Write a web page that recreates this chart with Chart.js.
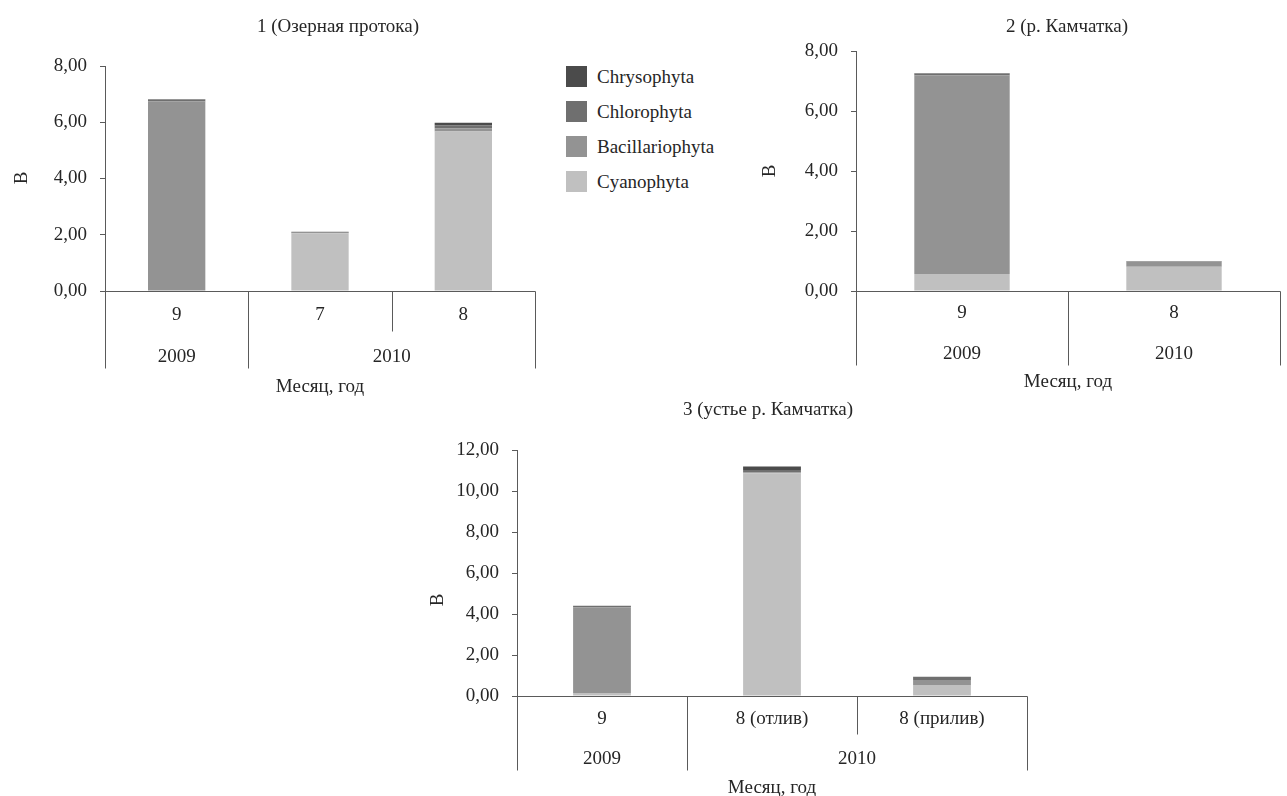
<!DOCTYPE html>
<html>
<head>
<meta charset="utf-8">
<script src="https://cdn.jsdelivr.net/npm/chart.js@4.4.1/dist/chart.umd.min.js"></script>
<style>
  html, body { margin: 0; padding: 0; background: #fff; width: 1287px; height: 796px; overflow: hidden; position: relative; }
  canvas { position: absolute; }
  #legend { position: absolute; left: 566px; top: 59px; font: 19px "Times New Roman", "Liberation Serif", "DejaVu Serif", serif; color: #262626; }
  #legend .item { display: flex; align-items: center; height: 35px; }
  #legend .sw { width: 21px; height: 21px; margin-right: 10px; flex: none; }
</style>
</head>
<body>
<canvas id="c1" width="560" height="400" style="left:0;top:0"></canvas>
<canvas id="c2" width="547" height="400" style="left:740px;top:0"></canvas>
<canvas id="c3" width="700" height="406" style="left:380px;top:390px"></canvas>
<div id="legend"></div>
<script>
// Phytoplankton groups, bottom of the stack first
const groupNames = ['Cyanophyta', 'Bacillariophyta', 'Chlorophyta', 'Chrysophyta'];
const groupColors = ['#c0c0c0', '#939393', '#6f6f6f', '#4b4b4b'];

// 1 (Озерная протока)
const months1 = ['9', '7', '8'];
const years1 = ['2009', '2010'];
const yearSpans1 = [1, 2];
const cyano1 = [0.00, 2.05, 5.67];
const bacil1 = [6.74, 0.02, 0.12];
const chloro1 = [0.06, 0.04, 0.10];
const chryso1 = [0.02, 0.00, 0.09];

// 2 (р. Камчатка)
const months2 = ['9', '8'];
const years2 = ['2009', '2010'];
const yearSpans2 = [1, 1];
const cyano2 = [0.57, 0.81];
const bacil2 = [6.61, 0.17];
const chloro2 = [0.06, 0.02];
const chryso2 = [0.02, 0.00];

// 3 (устье р. Камчатка)
const months3 = ['9', '8 (отлив)', '8 (прилив)'];
const years3 = ['2009', '2010'];
const yearSpans3 = [1, 2];
const cyano3 = [0.15, 10.86, 0.54];
const bacil3 = [4.17, 0.04, 0.24];
const chloro3 = [0.08, 0.12, 0.16];
const chryso3 = [0.00, 0.18, 0.00];

const FONT = '"Times New Roman", "Liberation Serif", "DejaVu Serif", serif';
const TEXT = '#262626';
const LINE = '#5a5a5a';

// Two-level category axis (month / year), axis captions and panel title
const groupAxis = {
  id: 'groupAxis',
  afterDraw(chart, args, o) {
    const { ctx, chartArea: a } = chart;
    const x = chart.scales.x;
    const n = o.months.length;
    const centers = o.months.map((_, i) => x.getPixelForValue(i));
    const edge = i => i === 0 ? a.left : i === n ? a.right : (centers[i - 1] + centers[i]) / 2;
    const px = v => Math.round(v) + 0.5;
    const line = (x1, y1, x2, y2) => { ctx.beginPath(); ctx.moveTo(px(x1), px(y1)); ctx.lineTo(px(x2), px(y2)); ctx.stroke(); };

    ctx.save();
    ctx.strokeStyle = LINE;
    ctx.lineWidth = 1;
    line(a.left, a.bottom, a.right, a.bottom);
    const outerEdges = new Set([0]);
    let acc = 0;
    o.spans.forEach(s => { acc += s; outerEdges.add(acc); });
    for (let i = 0; i <= n; i++) {
      const len = outerEdges.has(i) ? o.outerLen : o.innerLen;
      line(edge(i), a.bottom, edge(i), a.bottom + len);
    }

    ctx.fillStyle = TEXT;
    ctx.font = '19px ' + FONT;
    ctx.textAlign = 'center';
    ctx.textBaseline = 'middle';
    o.months.forEach((m, i) => ctx.fillText(m, centers[i], a.bottom + o.monthDy));
    let start = 0;
    o.years.forEach((yr, g) => {
      const end = start + o.spans[g];
      ctx.fillText(yr, (edge(start) + edge(end)) / 2, a.bottom + o.yearDy);
      start = end;
    });
    ctx.fillText(o.xTitle, (a.left + a.right) / 2, a.bottom + o.xTitleDy);
    ctx.fillText(o.caption, o.captionX, o.captionY);

    ctx.translate(o.yTitleX, o.yTitleY);
    ctx.rotate(-Math.PI / 2);
    ctx.fillText(o.yTitle, 0, 0);
    ctx.restore();
  }
};

function makeChart(id, cfg) {
  const series = [cfg.cyano, cfg.bacil, cfg.chloro, cfg.chryso];
  return new Chart(document.getElementById(id), {
    type: 'bar',
    data: {
      labels: cfg.months,
      datasets: groupNames.map((name, k) => ({
        label: name,
        data: series[k],
        backgroundColor: groupColors[k],
        borderWidth: 0,
        categoryPercentage: 1,
        barPercentage: cfg.barPct
      }))
    },
    options: {
      responsive: false,
      animation: false,
      events: [],
      layout: { padding: cfg.padding },
      plugins: {
        legend: { display: false },
        tooltip: { enabled: false },
        groupAxis: {
          months: cfg.months, years: cfg.years, spans: cfg.spans,
          monthDy: cfg.monthDy, yearDy: cfg.yearDy, xTitleDy: cfg.xTitleDy,
          innerLen: cfg.innerLen, outerLen: cfg.outerLen,
          xTitle: 'Месяц, год', yTitle: 'В',
          caption: cfg.caption, captionX: cfg.captionX, captionY: cfg.captionY,
          yTitleX: cfg.yTitleX, yTitleY: cfg.yTitleY
        }
      },
      scales: {
        x: { stacked: true, display: false },
        y: {
          stacked: true,
          min: 0, max: cfg.yMax,
          afterFit: s => { s.width = cfg.yWidth; },
          ticks: {
            stepSize: 2,
            padding: 13,
            color: TEXT,
            font: { family: FONT, size: 19 },
            callback: v => v.toFixed(2).replace('.', ',')
          },
          grid: { drawOnChartArea: false, drawTicks: true, tickLength: 5, color: LINE },
          border: { display: true, color: LINE }
        }
      }
    },
    plugins: [groupAxis]
  });
}

makeChart('c1', {
  months: months1, years: years1, spans: yearSpans1,
  cyano: cyano1, bacil: bacil1, chloro: chloro1, chryso: chryso1,
  yMax: 8, yWidth: 105, barPct: 0.4,
  padding: { top: 66, right: 25, bottom: 109, left: 0 },
  monthDy: 24, yearDy: 66, xTitleDy: 96, innerLen: 40, outerLen: 77,
  caption: '1 (Озерная протока)', captionX: 338, captionY: 27,
  yTitleX: 22, yTitleY: 178
});

makeChart('c2', {
  months: months2, years: years2, spans: yearSpans2,
  cyano: cyano2, bacil: bacil2, chloro: chloro2, chryso: chryso2,
  yMax: 8, yWidth: 116, barPct: 0.45,
  padding: { top: 51, right: 7, bottom: 109, left: 0 },
  monthDy: 22, yearDy: 63, xTitleDy: 91, innerLen: 74, outerLen: 74,
  caption: '2 (р. Камчатка)', captionX: 327, captionY: 27,
  yTitleX: 30, yTitleY: 171
});

makeChart('c3', {
  months: months3, years: years3, spans: yearSpans3,
  cyano: cyano3, bacil: bacil3, chloro: chloro3, chryso: chryso3,
  yMax: 12, yWidth: 137, barPct: 0.34,
  padding: { top: 60, right: 53, bottom: 100, left: 0 },
  monthDy: 23, yearDy: 63, xTitleDy: 92, innerLen: 38, outerLen: 74,
  caption: '3 (устье р. Камчатка)', captionX: 388, captionY: 20,
  yTitleX: 58, yTitleY: 210
});

// Shared legend, top group first
const legend = document.getElementById('legend');
groupNames.slice().reverse().forEach((name, i) => {
  const color = groupColors[groupNames.length - 1 - i];
  const row = document.createElement('div');
  row.className = 'item';
  const sw = document.createElement('span');
  sw.className = 'sw';
  sw.style.background = color;
  row.appendChild(sw);
  row.appendChild(document.createTextNode(name));
  legend.appendChild(row);
});
</script>
</body>
</html>
